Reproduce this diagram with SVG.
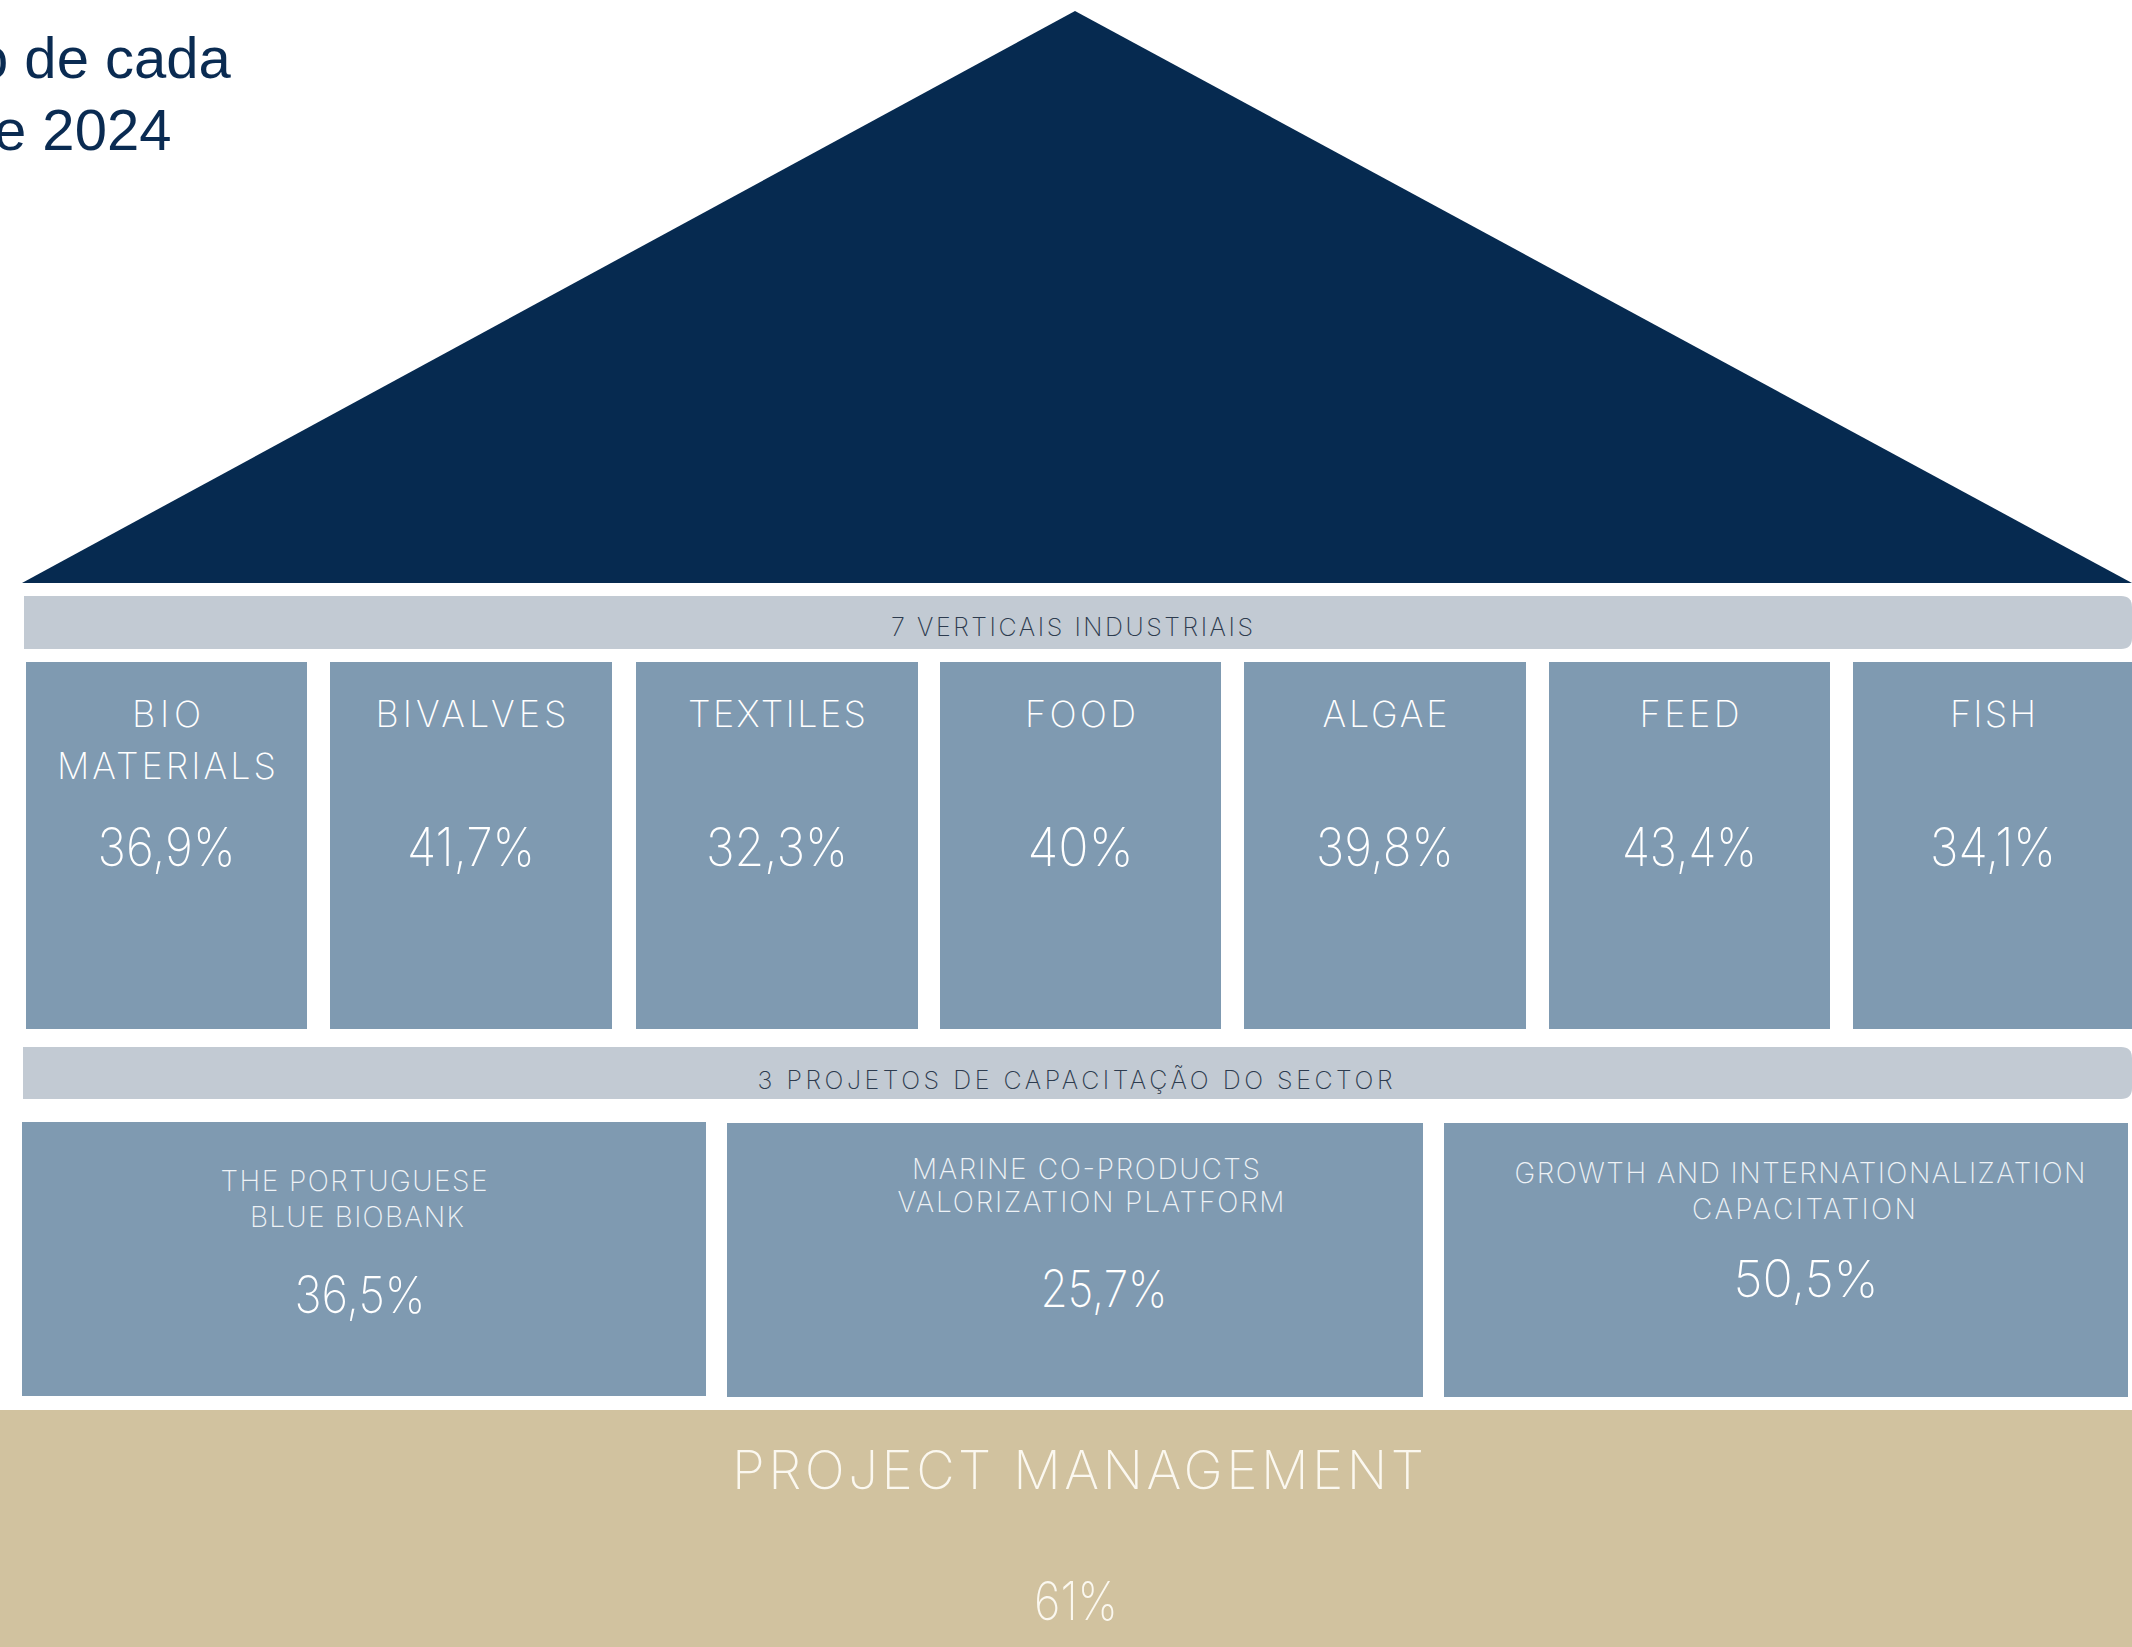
<svg xmlns="http://www.w3.org/2000/svg" width="2132" height="1647" viewBox="0 0 2132 1647">
<style>
.bg{fill:#ffffff}
.roof{fill:#062a50}
.band{fill:#c2cad3}
.box{fill:#7f9ab1}
.base{fill:#d1c29f}
.head{font-family:"Liberation Sans",Arial,sans-serif;font-size:58px;fill:#0a2b52}
.thin{font-family:Inter,"Open Sans",Lato,sans-serif;font-weight:200}
.bandtxt{font-size:25px;fill:#2d3b4e;text-anchor:middle}
.title{font-size:36px;fill:#ffffff;text-anchor:middle}
.pct{font-size:53px;fill:#ffffff;text-anchor:middle}
.sub{font-size:28px;fill:#eef2f6;text-anchor:middle}
.pct2{font-size:51px;fill:#ffffff;text-anchor:middle}
.pm{font-size:53px;fill:#fbf8f0;text-anchor:middle}
</style>
<rect class="bg" x="0" y="0" width="2132" height="1647"/>
<g id="heading">
<text class="head" x="-24" y="78">o de cada</text>
<text class="head" x="-6" y="150">e 2024</text>
</g>
<g id="roof">
<polygon class="roof" points="1075,11 2132,583 22,583"/>
</g>
<g id="band-verticais">
<path class="band" d="M24,596 H2121 Q2132,596 2132,607 V638 Q2132,649 2121,649 H24 Z"/>
<text class="thin bandtxt" x="1072" y="636" textLength="362">7 VERTICAIS INDUSTRIAIS</text>
</g>
<g id="bio-materials">
<rect class="box" x="26" y="662" width="281" height="367"/>
<text class="thin title" x="166.5" y="727" textLength="69">BIO</text>
<text class="thin title" x="166.5" y="779" textLength="219">MATERIALS</text>
<text class="thin pct" x="166.5" y="866" textLength="138" lengthAdjust="spacingAndGlyphs">36,9%</text>
</g>
<g id="bivalves">
<rect class="box" x="330" y="662" width="282" height="367"/>
<text class="thin title" x="471" y="727" textLength="191">BIVALVES</text>
<text class="thin pct" x="471" y="866" textLength="128" lengthAdjust="spacingAndGlyphs">41,7%</text>
</g>
<g id="textiles">
<rect class="box" x="636" y="662" width="282" height="367"/>
<text class="thin title" x="777" y="727" textLength="178">TEXTILES</text>
<text class="thin pct" x="777" y="866" textLength="142" lengthAdjust="spacingAndGlyphs">32,3%</text>
</g>
<g id="food">
<rect class="box" x="940" y="662" width="281" height="367"/>
<text class="thin title" x="1080.5" y="727" textLength="111">FOOD</text>
<text class="thin pct" x="1080.5" y="866" textLength="106" lengthAdjust="spacingAndGlyphs">40%</text>
</g>
<g id="algae">
<rect class="box" x="1244" y="662" width="282" height="367"/>
<text class="thin title" x="1385" y="727" textLength="125">ALGAE</text>
<text class="thin pct" x="1385" y="866" textLength="138" lengthAdjust="spacingAndGlyphs">39,8%</text>
</g>
<g id="feed">
<rect class="box" x="1549" y="662" width="281" height="367"/>
<text class="thin title" x="1689.5" y="727" textLength="100">FEED</text>
<text class="thin pct" x="1689.5" y="866" textLength="135" lengthAdjust="spacingAndGlyphs">43,4%</text>
</g>
<g id="fish">
<rect class="box" x="1853" y="662" width="279" height="367"/>
<text class="thin title" x="1993" y="727" textLength="86">FISH</text>
<text class="thin pct" x="1993" y="866" textLength="126" lengthAdjust="spacingAndGlyphs">34,1%</text>
</g>
<g id="band-projetos">
<path class="band" d="M23,1047 H2121 Q2132,1047 2132,1058 V1088 Q2132,1099 2121,1099 H23 Z"/>
<text class="thin bandtxt" x="1075" y="1089" textLength="635">3 PROJETOS DE CAPACITAÇÃO DO SECTOR</text>
</g>
<g id="blue-biobank">
<rect class="box" x="22" y="1122" width="684" height="274"/>
<text class="thin sub" x="354" y="1191" textLength="267">THE PORTUGUESE</text>
<text class="thin sub" x="357" y="1227" textLength="214">BLUE BIOBANK</text>
<text class="thin pct2" x="360" y="1313" textLength="131" lengthAdjust="spacingAndGlyphs">36,5%</text>
</g>
<g id="marine-co-products">
<rect class="box" x="727" y="1123" width="696" height="274"/>
<text class="thin sub" x="1086" y="1179" textLength="348">MARINE CO-PRODUCTS</text>
<text class="thin sub" x="1091" y="1212" textLength="387">VALORIZATION PLATFORM</text>
<text class="thin pct2" x="1104" y="1307" textLength="127" lengthAdjust="spacingAndGlyphs">25,7%</text>
</g>
<g id="growth">
<rect class="box" x="1444" y="1123" width="684" height="274"/>
<text class="thin sub" x="1800" y="1183" textLength="571">GROWTH AND INTERNATIONALIZATION</text>
<text class="thin sub" x="1804" y="1219" textLength="224">CAPACITATION</text>
<text class="thin pct2" x="1806" y="1297" textLength="145" lengthAdjust="spacingAndGlyphs">50,5%</text>
</g>
<g id="project-management">
<rect class="base" x="0" y="1410" width="2132" height="237"/>
<text class="thin pm" x="1078" y="1489" textLength="692">PROJECT MANAGEMENT</text>
<text class="thin pm" x="1076" y="1620" textLength="84" lengthAdjust="spacingAndGlyphs">61%</text>
</g>
<g id="connectors"/>
</svg>
